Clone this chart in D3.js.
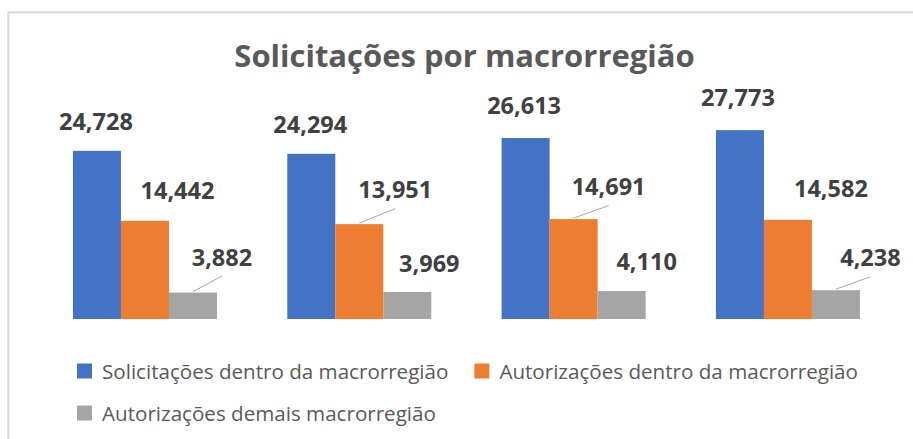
<!DOCTYPE html>
<html>
<head>
<meta charset="utf-8">
<script src="https://cdn.jsdelivr.net/npm/d3@7"></script>
<style>
  html, body { margin: 0; padding: 0; background: #fff; }
  svg { display: block; }
</style>
</head>
<body>
<svg id="chart" width="913" height="439"></svg>
<script>
// ---- Data ----
const title = "Solicitações por macrorregião";
const categories = ["Macrorregião 1", "Macrorregião 2", "Macrorregião 3", "Macrorregião 4"];
const seriesNames = [
  "Solicitações dentro da macrorregião",
  "Autorizações dentro da macrorregião",
  "Autorizações demais macrorregião"
];
const solicitacoesDentro = [24728, 24294, 26613, 27773];
const autorizacoesDentro = [14442, 13951, 14691, 14582];
const autorizacoesDemais = [3882, 3969, 4110, 4238];
const seriesColors = ["#4472C4", "#ED7D31", "#A5A5A5"];

// ---- Layout (manual data-label nudges, as placed in the original) ----
const labelNudgeX = [[-1, -1, -1.5, -2], [32.5, 36, 35, 43], [29, 22, 25, 34.5]];
const labelNudgeY = [[-21, -21, -24, -24], [-22, -26, -24, -23], [-27, -20, -21, -24]];
const labelLeader = [[false, false, false, false], [false, true, true, false], [true, false, false, true]];

const seriesValues = [solicitacoesDentro, autorizacoesDentro, autorizacoesDemais];

const svg = d3.select("#chart");

// chart area border
svg.append("rect")
  .attr("x", 8.3).attr("y", 12.3)
  .attr("width", 1000).attr("height", 1000)
  .attr("fill", "#fff")
  .attr("stroke", "#d9d9d9")
  .attr("stroke-width", 2);

// title
svg.append("text")
  .attr("x", 464.5).attr("y", 67)
  .attr("text-anchor", "middle")
  .attr("font-family", "'Open Sans', sans-serif")
  .attr("font-weight", 700)
  .attr("font-size", 31)
  .attr("fill", "#595959")
  .text(title);

// scales
const x0 = d3.scaleBand()
  .domain(categories)
  .range([37.8, 895.1])
  .paddingInner(0.328)
  .paddingOuter(0.164);

const x1 = d3.scaleBand()
  .domain(d3.range(seriesNames.length))
  .range([0, x0.bandwidth()])
  .padding(0);

const y = d3.scaleLinear()
  .domain([0, 30000])
  .range([319, 115]);

const fmt = d3.format(",");

const points = [];
seriesValues.forEach((vals, s) => {
  vals.forEach((v, i) => {
    points.push({ s, i, v, cat: categories[i] });
  });
});

const g = svg.append("g");

g.selectAll("rect.bar")
  .data(points)
  .join("rect")
  .attr("class", "bar")
  .attr("x", d => x0(d.cat) + x1(d.s))
  .attr("y", d => y(d.v))
  .attr("width", x1.bandwidth())
  .attr("height", d => y(0) - y(d.v))
  .attr("fill", d => seriesColors[d.s]);

const cx = d => x0(d.cat) + x1(d.s) + x1.bandwidth() / 2;
const lx = d => cx(d) + labelNudgeX[d.s][d.i];
const ly = d => y(d.v) + labelNudgeY[d.s][d.i];

// leader lines
g.selectAll("line.leader")
  .data(points.filter(d => labelLeader[d.s][d.i]))
  .join("line")
  .attr("class", "leader")
  .attr("x1", d => cx(d))
  .attr("y1", d => y(d.v) - 1)
  .attr("x2", d => lx(d))
  .attr("y2", d => ly(d) + 10.5)
  .attr("stroke", "#a6a6a6")
  .attr("stroke-width", 1);

// data labels
g.selectAll("text.lbl")
  .data(points)
  .join("text")
  .attr("class", "lbl")
  .attr("x", lx)
  .attr("y", ly)
  .attr("text-anchor", "middle")
  .attr("font-family", "'Open Sans', sans-serif")
  .attr("font-weight", 700)
  .attr("font-size", 23.5)
  .attr("fill", "#404040")
  .text(d => fmt(d.v));

// legend
const legend = svg.append("g");
const legendStartX = 77, legendRow0 = 363.5, legendRowGap = 42, sq = 15;
let lx0 = legendStartX, row = 0;
seriesNames.forEach((name, s) => {
  const item = legend.append("g");
  const t = item.append("text")
    .attr("font-family", "'Open Sans', sans-serif")
    .attr("font-size", 20.6)
    .attr("fill", "#595959")
    .text(name);
  const w = t.node().getComputedTextLength();
  if (lx0 + sq + 10 + w > 890) { row += 1; lx0 = legendStartX; }
  const top = legendRow0 + row * legendRowGap;
  item.append("rect")
    .attr("x", lx0).attr("y", top)
    .attr("width", sq).attr("height", sq)
    .attr("fill", seriesColors[s]);
  t.attr("x", lx0 + sq + 10).attr("y", top + sq + 0.5);
  lx0 = lx0 + sq + 10 + w + 26;
});
</script>
</body>
</html>
